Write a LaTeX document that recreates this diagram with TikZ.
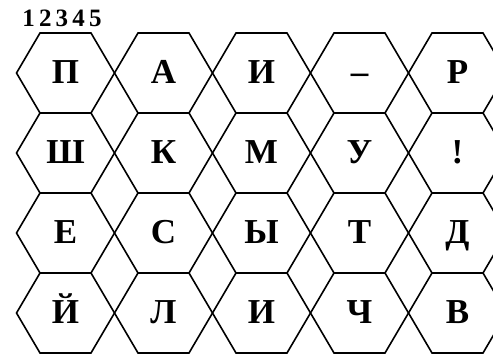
\documentclass[tikz,border=0pt]{standalone}
\usepackage{fontspec}
\setmainfont{Liberation Serif}
\begin{document}
\begin{tikzpicture}[
  x=1pt, y=-1pt,
  cell/.style={draw, line width=1.6pt, line join=miter},
  letter/.style={font=\bfseries\fontsize{35}{35}\selectfont, inner sep=0pt, anchor=base},
  digits/.style={font=\bfseries\fontsize{25}{25}\selectfont, inner sep=0pt, anchor=base}
]
\useasboundingbox (0,0) rectangle (493,355);
\clip (0,0) rectangle (493,355);
\node[digits] (nums) at (62,27) {1\,2\,3\,4\,5};
\foreach \row [count=\j from 0] in {{П,А,И,–,Р},{Ш,К,М,У,!},{Е,С,Ы,Т,Д},{Й,Л,И,Ч,В}} {
  \foreach \ch [count=\i from 0] in \row {
    \draw[cell, shift={(65.5+98*\i,73+80*\j)}]
      (-49,0) -- (-25.5,-40) -- (25.5,-40) -- (49,0) -- (25.5,40) -- (-25.5,40) -- cycle;
    \node[letter] (l-\j-\i) at (65.5+98*\i,84+80*\j) {\ch};
  }
}
\end{tikzpicture}
\end{document}
